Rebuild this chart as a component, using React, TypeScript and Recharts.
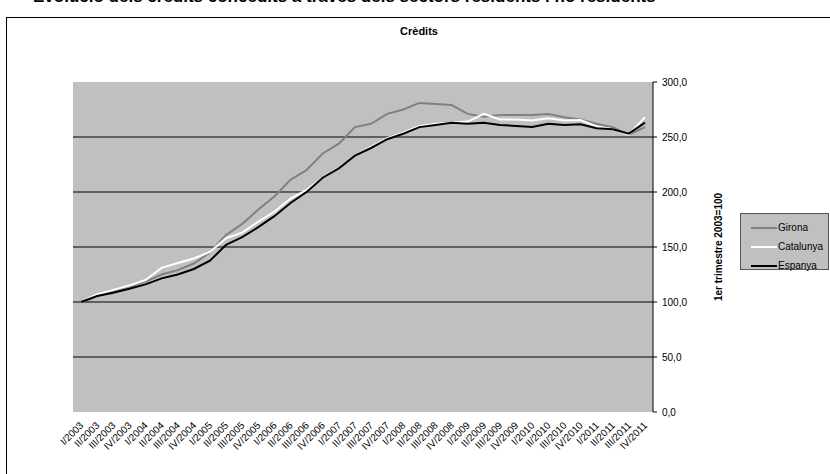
import React from "react";
import {
  LineChart,
  Line,
  XAxis,
  YAxis,
  CartesianGrid,
  Legend,
} from "recharts";

const quarters = [
  "I/2003", "II/2003", "III/2003", "IV/2003",
  "I/2004", "II/2004", "III/2004", "IV/2004",
  "I/2005", "II/2005", "III/2005", "IV/2005",
  "I/2006", "II/2006", "III/2006", "IV/2006",
  "I/2007", "II/2007", "III/2007", "IV/2007",
  "I/2008", "II/2008", "III/2008", "IV/2008",
  "I/2009", "II/2009", "III/2009", "IV/2009",
  "I/2010", "II/2010", "III/2010", "IV/2010",
  "I/2011", "II/2011", "III/2011", "IV/2011",
];

const girona = [
  100, 105.5, 109.5, 113.5, 118.5, 125, 129, 135, 145, 161, 171, 184,
  196, 211, 220, 235, 244, 259, 262, 271, 275, 281, 280, 279,
  271, 268.5, 270, 270, 270, 271, 268, 266, 262, 259, 252, 259,
];

const catalunya = [
  100, 107, 111, 115, 120, 131, 135.5, 139.5, 145.5, 158, 163, 173,
  182, 194, 202, 213, 222, 233, 241, 249, 254, 260, 262, 263,
  264, 271, 266, 266, 265, 267, 265, 265.5, 259.5, 257, 252, 268,
];

const espanya = [
  100, 105.5, 108.5, 112, 116, 121.5, 125, 130, 137.5, 152, 159, 168,
  178, 190, 200, 213, 221.5, 233, 240, 248, 253, 259, 261, 263,
  262, 263, 261, 260, 259, 262, 261, 261.5, 258, 257, 253, 263,
];

const yTicks = [0, 50, 100, 150, 200, 250, 300];

const series = [
  { key: "Girona", color: "#808080" },
  { key: "Catalunya", color: "#FFFFFF" },
  { key: "Espanya", color: "#000000" },
];

// x = i + 0.5 puts each quarter in the middle of its slot, like Excel
const data = quarters.map((q, i) => ({
  x: i + 0.5,
  q,
  Girona: girona[i],
  Catalunya: catalunya[i],
  Espanya: espanya[i],
}));

const edgeTicks = [...quarters.map((_, i) => i), quarters.length];
const centerTicks = quarters.map((_, i) => i + 0.5);

const FONT = "'Liberation Sans', Arial, sans-serif";

const fmt = (v: number) => v.toFixed(1).replace(".", ",");

function QuarterTick({ x, y, payload }: any) {
  const label = quarters[Math.floor(payload.value)];
  return (
    <text
      x={x + 3}
      y={y}
      transform={`rotate(-45 ${x + 3} ${y})`}
      textAnchor="end"
      fontSize={10}
      fontFamily={FONT}
      fill="#000"
    >
      {label}
    </text>
  );
}

function LegendBox() {
  return (
    <div
      style={{
        width: 89,
        height: 57,
        boxSizing: "border-box",
        background: "#C0C0C0",
        border: "1px solid #555",
        padding: "4px 0 0 10px",
        fontFamily: FONT,
        fontSize: 10,
        textAlign: "left",
      }}
    >
      {series.map((s) => (
        <div key={s.key} style={{ display: "flex", alignItems: "center", height: 19 }}>
          <svg width={26} height={4} style={{ marginRight: 1 }}>
            <line x1={0} y1={2} x2={26} y2={2} stroke={s.color} strokeWidth={2} />
          </svg>
          <span>{s.key}</span>
        </div>
      ))}
    </div>
  );
}

export default function App() {
  return (
    <div style={{ position: "absolute", left: 0, top: 0, width: 830, height: 474, overflow: "hidden", background: "#fff" }}>
      <div
        style={{
          position: "absolute",
          left: 33,
          top: -12,
          fontFamily: FONT,
          fontWeight: "bold",
          fontSize: 17,
          lineHeight: "17px",
          whiteSpace: "nowrap",
        }}
      >
        Evolució dels crèdits concedits a través dels sectors residents i no residents
      </div>
      <div
        style={{
          position: "absolute",
          left: 6,
          top: 17,
          width: 830,
          height: 480,
          borderLeft: "1px solid #000",
          borderTop: "1px solid #000",
        }}
      />
      <div
        style={{
          position: "absolute",
          left: 0,
          width: 838,
          top: 25,
          textAlign: "center",
          fontFamily: FONT,
          fontWeight: "bold",
          fontSize: 11,
        }}
      >
        Crèdits
      </div>
      <div style={{ position: "absolute", left: 0, top: 0 }}>
        <LineChart
          width={830}
          height={474}
          data={data}
          margin={{ top: 82, right: 47, bottom: 12, left: 73 }}
        >
          <CartesianGrid
            xAxisId="lab"
            yAxisId="r"
            vertical={false}
            stroke="#000"
            fill="#C0C0C0"
            fillOpacity={1}
            horizontalValues={[50, 100, 150, 200, 250]}
          />
          <XAxis
            xAxisId="edge"
            type="number"
            dataKey="x"
            domain={[0, quarters.length]}
            ticks={edgeTicks}
            interval={0}
            height={0}
            tick={false}
            tickSize={5}
            tickLine={{ stroke: "#000" }}
            axisLine={{ stroke: "#000" }}
          />
          <XAxis
            xAxisId="lab"
            type="number"
            dataKey="x"
            domain={[0, quarters.length]}
            ticks={centerTicks}
            interval={0}
            height={50}
            tickLine={false}
            axisLine={false}
            tickMargin={8}
            tick={<QuarterTick />}
          />
          <XAxis
            xAxisId="top"
            orientation="top"
            type="number"
            dataKey="x"
            domain={[0, quarters.length]}
            height={0}
            tick={false}
            tickLine={false}
            axisLine={{ stroke: "#808080" }}
          />
          <YAxis
            yAxisId="l"
            orientation="left"
            type="number"
            domain={[0, 300]}
            width={0}
            tick={false}
            tickLine={false}
            axisLine={{ stroke: "#808080" }}
          />
          <YAxis
            yAxisId="r"
            orientation="right"
            type="number"
            domain={[0, 300]}
            ticks={yTicks}
            interval={0}
            width={130}
            tickSize={4}
            tickMargin={5}
            tickFormatter={fmt}
            tick={{ fontSize: 10, fontFamily: FONT, fill: "#000" }}
            tickLine={{ stroke: "#000" }}
            axisLine={{ stroke: "#000" }}
            label={{
              value: "1er trimestre 2003=100",
              angle: -90,
              position: "center",
              style: { fontSize: 10, fontWeight: "bold", fontFamily: FONT, fill: "#000", textAnchor: "middle" },
            }}
          />
          <Legend
            layout="horizontal"
            verticalAlign="middle"
            align="center"
            wrapperStyle={{ left: 740, top: 213, width: 89 }}
            content={() => <LegendBox />}
          />
          {series.map((s) => (
            <Line
              key={s.key}
              xAxisId="lab"
              yAxisId="r"
              dataKey={s.key}
              type="linear"
              stroke={s.color}
              strokeWidth={2}
              dot={false}
              activeDot={false}
              isAnimationActive={false}
            />
          ))}
        </LineChart>
      </div>
    </div>
  );
}
